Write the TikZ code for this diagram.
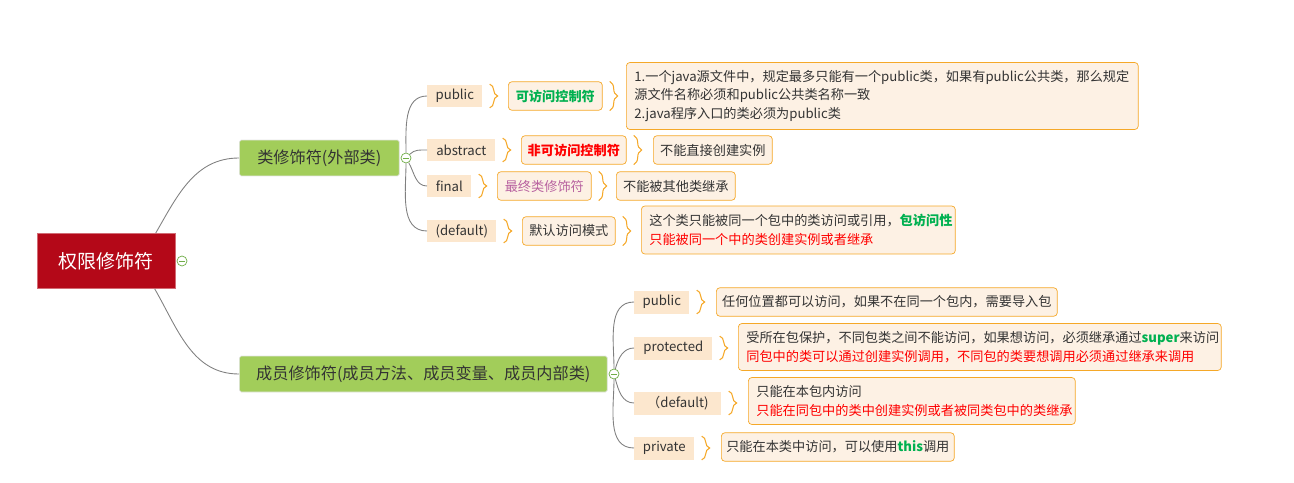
\documentclass[tikz,border=0pt]{standalone}
\usepackage{fontspec}
\setmainfont{Noto Sans CJK SC}
\usepackage{tikz}
\usetikzlibrary{positioning, decorations.pathreplacing}

\definecolor{rootred}{RGB}{180,8,24}
\definecolor{topicgreen}{RGB}{162,205,90}
\definecolor{keyfill}{RGB}{252,231,206}
\definecolor{tagfill}{RGB}{253,241,228}
\definecolor{tagline}{RGB}{245,168,40}
\definecolor{txt}{RGB}{51,51,51}
\definecolor{kgreen}{RGB}{0,176,80}
\definecolor{kpurple}{RGB}{184,98,160}
\definecolor{linkgray}{RGB}{128,128,128}
\definecolor{foldgreen}{RGB}{112,173,71}

\begin{document}
\begin{tikzpicture}[x=0.02cm, y=0.02cm,
  root/.style={draw=rootred!60!white, fill=rootred, text=white, minimum width=2.76cm, minimum height=1.1cm, anchor=west, font=\fontsize{10.8}{13}\selectfont},
  topic/.style={draw=black!10, fill=topicgreen, rounded corners=1pt, minimum height=0.72cm, anchor=west, text=txt, font=\fontsize{9.2}{11}\selectfont},
  kw/.style={fill=keyfill, minimum height=0.46cm, anchor=west, text=txt, inner sep=0pt, font=\fontsize{7.5}{10.8}\selectfont},
  tag/.style={draw=tagline, fill=tagfill, rounded corners=2pt, minimum height=0.57cm, anchor=west, inner sep=0pt, text=txt, font=\fontsize{7.5}{10.8}\selectfont},
  note/.style={tag, align=left, inner xsep=0.16cm},
  fold/.style={circle, draw=foldgreen, fill=white, minimum size=0.2cm, inner sep=0pt, path picture={\draw[foldgreen] ([xshift=-0.06cm]path picture bounding box.center) -- ([xshift=0.06cm]path picture bounding box.center);}},
  link/.style={draw=linkgray, line width=0.5pt},
  brace/.style={draw=tagline, line width=0.6pt, decorate, decoration={brace, amplitude=0.16cm}}
]
\useasboundingbox (0,0) rectangle (1294,-483);

\node[root] (root) at (37,-261) {权限修饰符};
\node[fold] (c0) at (182,-261) {};

\node[topic, minimum width=3.2cm] (cls) at (239,-158) {类修饰符(外部类)};
\node[fold] (c1) at (406,-158) {};
\node[topic, minimum width=7.36cm] (mem) at (239,-374) {成员修饰符(成员方法、成员变量、成员内部类)};
\node[fold] (c2) at (614,-374) {};

% class modifiers
\node[kw, minimum width=1.1cm] (kpub) at (427,-96) {public};
\node[kw, minimum width=1.36cm] (kabs) at (427,-150) {abstract};
\node[kw, minimum width=0.88cm] (kfin) at (427,-186) {final};
\node[kw, minimum width=1.38cm] (kdef) at (427,-231) {(default)};

\node[tag, minimum width=1.88cm, text=kgreen] (tpub) at (508,-96) {\bfseries 可访问控制符};
\node[tag, minimum width=2.1cm, text=red] (tabs) at (521,-150) {\bfseries 非可访问控制符};
\node[tag, minimum width=1.88cm, text=kpurple] (tfin) at (497,-186) {最终类修饰符};
\node[tag, minimum width=1.86cm] (tdef) at (522,-231) {默认访问模式};

\node[note, text width=9.92cm, minimum height=1.34cm] (npub) at (626,-96) {1.一个java源文件中，规定最多只能有一个public类，如果有public公共类，那么规定\\源文件名称必须和public公共类名称一致\\2.java程序入口的类必须为public类};
\node[tag, minimum width=2.38cm] (nabs) at (653,-150) {不能直接创建实例};
\node[tag, minimum width=2.38cm] (nfin) at (616,-186) {不能被其他类继承};
\node[note, text width=5.96cm, minimum height=0.96cm] (ndef) at (641,-230) {这个类只能被同一个包中的类访问或引用，{\color{kgreen}\bfseries 包访问性}\\{\color{red}只能被同一个中的类创建实例或者继承}};

% member modifiers
\node[kw, minimum width=1.1cm] (mpub) at (634,-302) {public};
\node[kw, minimum width=1.56cm] (mpro) at (634,-348) {protected};
\node[kw, minimum width=1.74cm] (mdef) at (634,-403) {（default)};
\node[kw, minimum width=1.2cm] (mpri) at (634,-448) {private};

\node[tag, minimum width=6.82cm] (dpub) at (716,-302) {任何位置都可以访问，如果不在同一个包内，需要导入包};
\node[note, text width=9.34cm, minimum height=0.94cm] (dpro) at (738,-347) {受所在包保护，不同包类之间不能访问，如果想访问，必须继承通过{\color{kgreen}\bfseries super}来访问\\{\color{red}同包中的类可以通过创建实例调用，不同包的类要想调用必须通过继承来调用}};
\node[note, text width=6.22cm, minimum height=0.94cm] (ddef) at (748,-401) {只能在本包内访问\\{\color{red}只能在同包中的类中创建实例或者被同类包中的类继承}};
\node[tag, minimum width=4.66cm] (dpri) at (721,-447) {只能在本类中访问，可以使用{\color{kgreen}\bfseries this}调用};

% links
\draw[link] ([xshift=-0.4cm]root.north east) to[out=60, in=180] (cls);
\draw[link] ([xshift=-0.42cm]root.south east) to[out=-60, in=180] (mem);

\draw[link] (c1) to[out=90, in=180] (kpub);
\draw[link] (c1) to[out=45, in=180] (kabs);
\draw[link] (c1) to[out=-60, in=180] (kfin);
\draw[link] (c1) to[out=-90, in=180] (kdef);

\draw[link] (c2) to[out=90, in=180] (mpub);
\draw[link] (c2) to[out=75, in=180] (mpro);
\draw[link] (c2) to[out=-75, in=180] (mdef);
\draw[link] (c2) to[out=-90, in=180] (mpri);

% braces
\draw[brace] ([xshift=0.14cm]kpub.north east) -- ([xshift=0.14cm]kpub.south east);
\draw[brace] ([xshift=0.14cm]tpub.north east) -- ([xshift=0.14cm]tpub.south east);
\draw[brace] ([xshift=0.14cm]kabs.north east) -- ([xshift=0.14cm]kabs.south east);
\draw[brace] ([xshift=0.14cm]tabs.north east) -- ([xshift=0.14cm]tabs.south east);
\draw[brace] ([xshift=0.14cm]kfin.north east) -- ([xshift=0.14cm]kfin.south east);
\draw[brace] ([xshift=0.14cm]tfin.north east) -- ([xshift=0.14cm]tfin.south east);
\draw[brace] ([xshift=0.14cm]kdef.north east) -- ([xshift=0.14cm]kdef.south east);
\draw[brace] ([xshift=0.14cm]tdef.north east) -- ([xshift=0.14cm]tdef.south east);
\draw[brace] ([xshift=0.14cm]mpub.north east) -- ([xshift=0.14cm]mpub.south east);
\draw[brace] ([xshift=0.14cm]mpro.north east) -- ([xshift=0.14cm]mpro.south east);
\draw[brace] ([xshift=0.14cm]mdef.north east) -- ([xshift=0.14cm]mdef.south east);
\draw[brace] ([xshift=0.14cm]mpri.north east) -- ([xshift=0.14cm]mpri.south east);
\end{tikzpicture}
\end{document}
